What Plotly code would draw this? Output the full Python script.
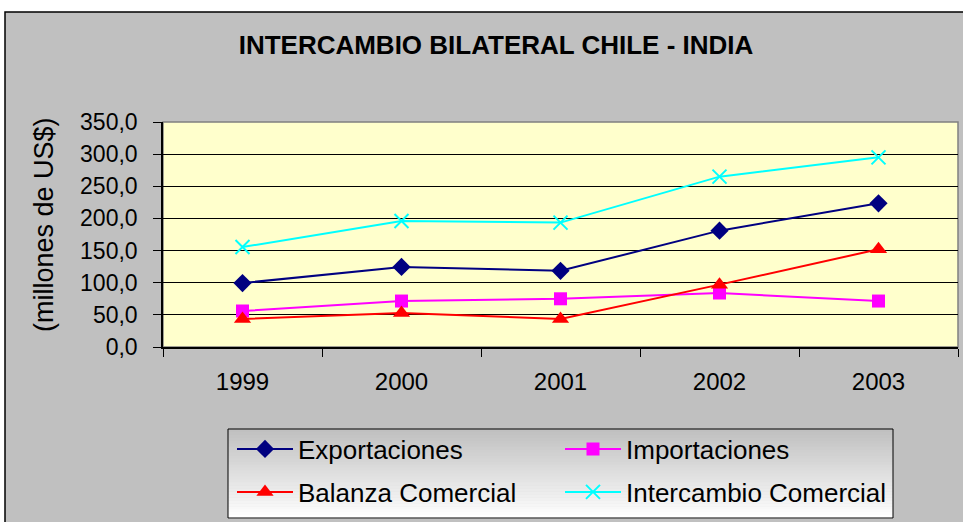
import plotly.graph_objects as go

years = ["1999", "2000", "2001", "2002", "2003"]
exportaciones = [99.5, 124.5, 118.5, 181.0, 223.5]
importaciones = [56.0, 71.5, 75.0, 84.0, 71.5]
balanza = [43.5, 53.0, 43.5, 97.0, 152.0]
intercambio = [155.5, 196.0, 193.5, 265.0, 295.0]
y_ticks = [0, 50, 100, 150, 200, 250, 300, 350]

FONT = "Liberation Sans, Arial, sans-serif"
W, H = 963, 522
L, R, T, B = 163, 5, 122, 175
PW, PH = W - L - R, H - T - B


def px_x(p):
    return (p - L) / PW


def px_y(p):
    return (H - B - p) / PH


fig = go.Figure()
series = [
    ("Exportaciones", exportaciones, "#000080", "diamond", 14, "legend"),
    ("Importaciones", importaciones, "#FF00FF", "square", 13, "legend2"),
    ("Balanza Comercial", balanza, "#FF0000", "triangle-up", 15, "legend3"),
    ("Intercambio Comercial", intercambio, "#00FFFF", "x-thin-open", 14, "legend4"),
]
for name, vals, col, sym, size, lg in series:
    mk = dict(symbol=sym, size=size, color=col)
    if sym == "x-thin-open":
        mk["line"] = dict(color=col, width=2)
    fig.add_trace(go.Scatter(x=years, y=vals, name=name, mode="lines+markers",
                             line=dict(color=col, width=2), marker=mk, legend=lg))

shapes = []
# outer grey area with border
shapes.append(dict(type="rect", xref="paper", yref="paper",
                   x0=px_x(5), x1=px_x(975), y0=px_y(12), y1=px_y(535),
                   line=dict(color="#000000", width=1.5), fillcolor="#C0C0C0", layer="below"))
# plot area background + border
shapes.append(dict(type="rect", xref="paper", yref="paper", x0=0, x1=1, y0=0, y1=1,
                   line=dict(color="#808080", width=1.5), fillcolor="#FFFFCC", layer="below"))
# legend box gradient
lx0, lx1, ly0, ly1 = 228, 893, 429, 518
n = 30
for i in range(n):
    t = i / (n - 1)
    g = int(192 + (255 - 192) * t)
    a = ly0 + (ly1 - ly0) * i / n
    b = ly0 + (ly1 - ly0) * (i + 1) / n
    shapes.append(dict(type="rect", xref="paper", yref="paper",
                       x0=px_x(lx0), x1=px_x(lx1), y0=px_y(a), y1=px_y(b + 0.5),
                       line=dict(width=0), fillcolor=f"rgb({g},{g},{g})", layer="above"))
shapes.append(dict(type="rect", xref="paper", yref="paper",
                   x0=px_x(lx0), x1=px_x(lx1), y0=px_y(ly0), y1=px_y(ly1),
                   line=dict(color="#000000", width=1), fillcolor="rgba(0,0,0,0)", layer="above"))

leg_font = dict(family=FONT, size=26, color="#000000")


def leg(xp, yp):
    return dict(x=px_x(xp), y=px_y(yp), xanchor="left", yanchor="middle",
                bgcolor="rgba(0,0,0,0)", borderwidth=0, font=leg_font,
                itemwidth=56)


fig.update_layout(
    width=W, height=H,
    margin=dict(l=L, r=R, t=T, b=B, autoexpand=False),
    paper_bgcolor="#FFFFFF",
    plot_bgcolor="rgba(0,0,0,0)",
    separators=",.",
    font=dict(family=FONT, size=23, color="#000000"),
    title=dict(text="<b>INTERCAMBIO BILATERAL CHILE - INDIA</b>",
               x=496 / W, y=1 - 45 / H, xref="container", yref="container",
               xanchor="center", yanchor="middle",
               font=dict(family=FONT, size=26, color="#000000")),
    xaxis=dict(type="category", categoryorder="array", categoryarray=years,
               tickson="boundaries", ticks="outside", ticklen=8, tickcolor="#000000",
               showline=True, linecolor="#000000", linewidth=1.5, showgrid=False,
               tickfont=dict(family=FONT, size=24), ticklabelstandoff=12,
               range=[-0.5, 4.5], zeroline=False, fixedrange=True),
    yaxis=dict(range=[0, 350], tickvals=y_ticks, tickformat=".1f",
               ticks="outside", ticklen=8, tickcolor="#000000",
               showline=True, linecolor="#000000", linewidth=1.5,
               showgrid=True, gridcolor="#000000", gridwidth=1,
               zeroline=False, tickfont=dict(family=FONT, size=23),
               ticklabelstandoff=11, fixedrange=True),
    annotations=[dict(text="(millones de US$)", xref="paper", yref="paper",
                      x=px_x(44), y=px_y(225), xanchor="center", yanchor="middle",
                      textangle=-90, showarrow=False,
                      font=dict(family=FONT, size=27, color="#000000"))],
    shapes=shapes,
    showlegend=True,
    legend=leg(232, 449),
    legend2=leg(560, 449),
    legend3=leg(232, 492),
    legend4=leg(560, 492),
)

fig.write_html("out.html", config={"displayModeBar": False},
               post_script="document.body.style.margin='0';")
